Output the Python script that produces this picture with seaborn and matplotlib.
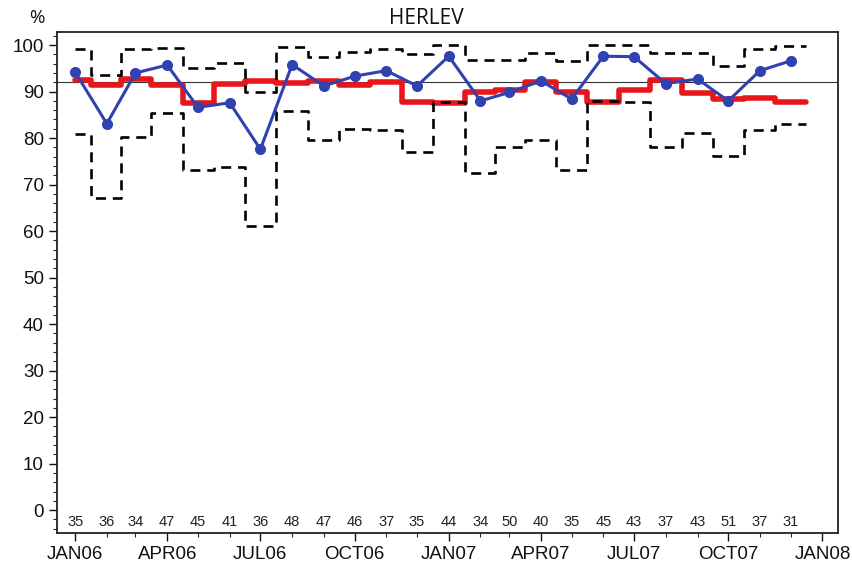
import numpy as np
import pandas as pd
import matplotlib
matplotlib.use("Agg")
import matplotlib.pyplot as plt
import matplotlib.dates as mdates
from matplotlib.ticker import FuncFormatter, MultipleLocator
import seaborn as sns

# monthly data, JAN06 .. DEC07
months = pd.date_range("2006-01-01", periods=24, freq="MS")
pct = [94.2, 83.1, 94.0, 95.7, 86.6, 87.6, 77.6, 95.8, 91.2, 93.3, 94.5, 91.2,
       97.6, 88.0, 89.8, 92.3, 88.4, 97.6, 97.5, 91.7, 92.7, 88.0, 94.5, 96.6]
center = [92.5, 91.5, 92.8, 91.4, 87.6, 91.7, 92.2, 91.8, 92.3, 91.4, 92.1, 87.7,
          87.6, 89.8, 90.3, 92.1, 89.8, 87.8, 90.3, 92.5, 89.6, 88.3, 88.6, 87.8]
upper = [99.1, 93.5, 99.2, 99.4, 95.0, 96.1, 89.9, 99.6, 97.5, 98.6, 99.1, 98.1,
         100.0, 96.8, 96.8, 98.3, 96.6, 100.0, 100.0, 98.2, 98.2, 95.5, 99.1, 99.8]
lower = [80.8, 67.1, 80.2, 85.4, 73.2, 73.8, 61.0, 85.8, 79.5, 81.9, 81.7, 76.9,
         87.8, 72.5, 78.1, 79.5, 73.2, 88.0, 87.8, 78.1, 81.0, 76.1, 81.8, 83.1]
n_obs = [35, 36, 34, 47, 45, 41, 36, 48, 47, 46, 37, 35,
         44, 34, 50, 40, 35, 45, 43, 37, 43, 51, 37, 31]
overall = 92.0

df = pd.DataFrame({"month": months, "pct": pct})

# step edges centred on each month
mids = months[:-1] + (months[1:] - months[:-1]) / 2
edges = [months[0]] + list(mids) + [months[-1] + pd.Timedelta(days=15)]
step_x = []
for a, b in zip(edges[:-1], edges[1:]):
    step_x += [a, b]


def steps(vals):
    return pd.DataFrame({"x": step_x, "y": np.repeat(vals, 2)})


sns.set_style("ticks")
plt.rcParams["font.family"] = ["Liberation Sans", "DejaVu Sans"]

fig = plt.figure(figsize=(8.52, 5.70), dpi=100)
ax = fig.add_axes([0.067, 0.065, 0.917, 0.878])

sns.lineplot(data=steps(center), x="x", y="y", sort=False, estimator=None,
             color="#e8161b", lw=4.0, ax=ax, zorder=2)
for lim in (upper, lower):
    sns.lineplot(data=steps(lim), x="x", y="y", sort=False, estimator=None,
                 color="black", lw=1.9, ax=ax, zorder=3, dashes=False,
                 linestyle=(0, (3.8, 2.6)))
ax.axhline(overall, color="#333333", lw=0.8, zorder=1)
sns.lineplot(data=df, x="month", y="pct", color="#3041b0", lw=2.2,
             marker="o", markersize=8, markeredgewidth=0, ax=ax, zorder=4)

for m, n in zip(months, n_obs):
    ax.text(m, -2.6, str(n), ha="center", va="center", fontsize=10.5,
            color="#222222")

ax.set_xlim(pd.Timestamp("2006-01-01") - pd.Timedelta(days=17.6),
            pd.Timestamp("2008-01-01") + pd.Timedelta(days=15.6))
ax.set_ylim(-4.9, 102.7)
ax.xaxis.set_major_locator(mdates.MonthLocator(bymonth=[1, 4, 7, 10]))
ax.xaxis.set_minor_locator(mdates.MonthLocator())
ax.xaxis.set_major_formatter(
    FuncFormatter(lambda v, p: mdates.num2date(v).strftime("%b%y").upper()))
ax.yaxis.set_major_locator(MultipleLocator(10))
ax.yaxis.set_minor_locator(MultipleLocator(2))
ax.tick_params(axis="both", which="major", direction="out", length=6,
               width=1, labelsize=13.5, colors="#111111")
ax.tick_params(axis="both", which="minor", direction="out", length=3, width=0.8)
ax.set_xlabel("")
ax.set_ylabel("")
for s in ax.spines.values():
    s.set_visible(True)
    s.set_linewidth(1.3)
    s.set_color("#222222")

fig.text(0.5, 0.968, "HERLEV", ha="center", va="center", fontsize=15,
         family=["Open Sans", "DejaVu Sans"], color="#111111")
fig.text(0.043, 0.968, "%", ha="center", va="center", fontsize=13.5,
         family=["Open Sans", "DejaVu Sans"], color="#111111")

fig.savefig("out.png", dpi=100)
